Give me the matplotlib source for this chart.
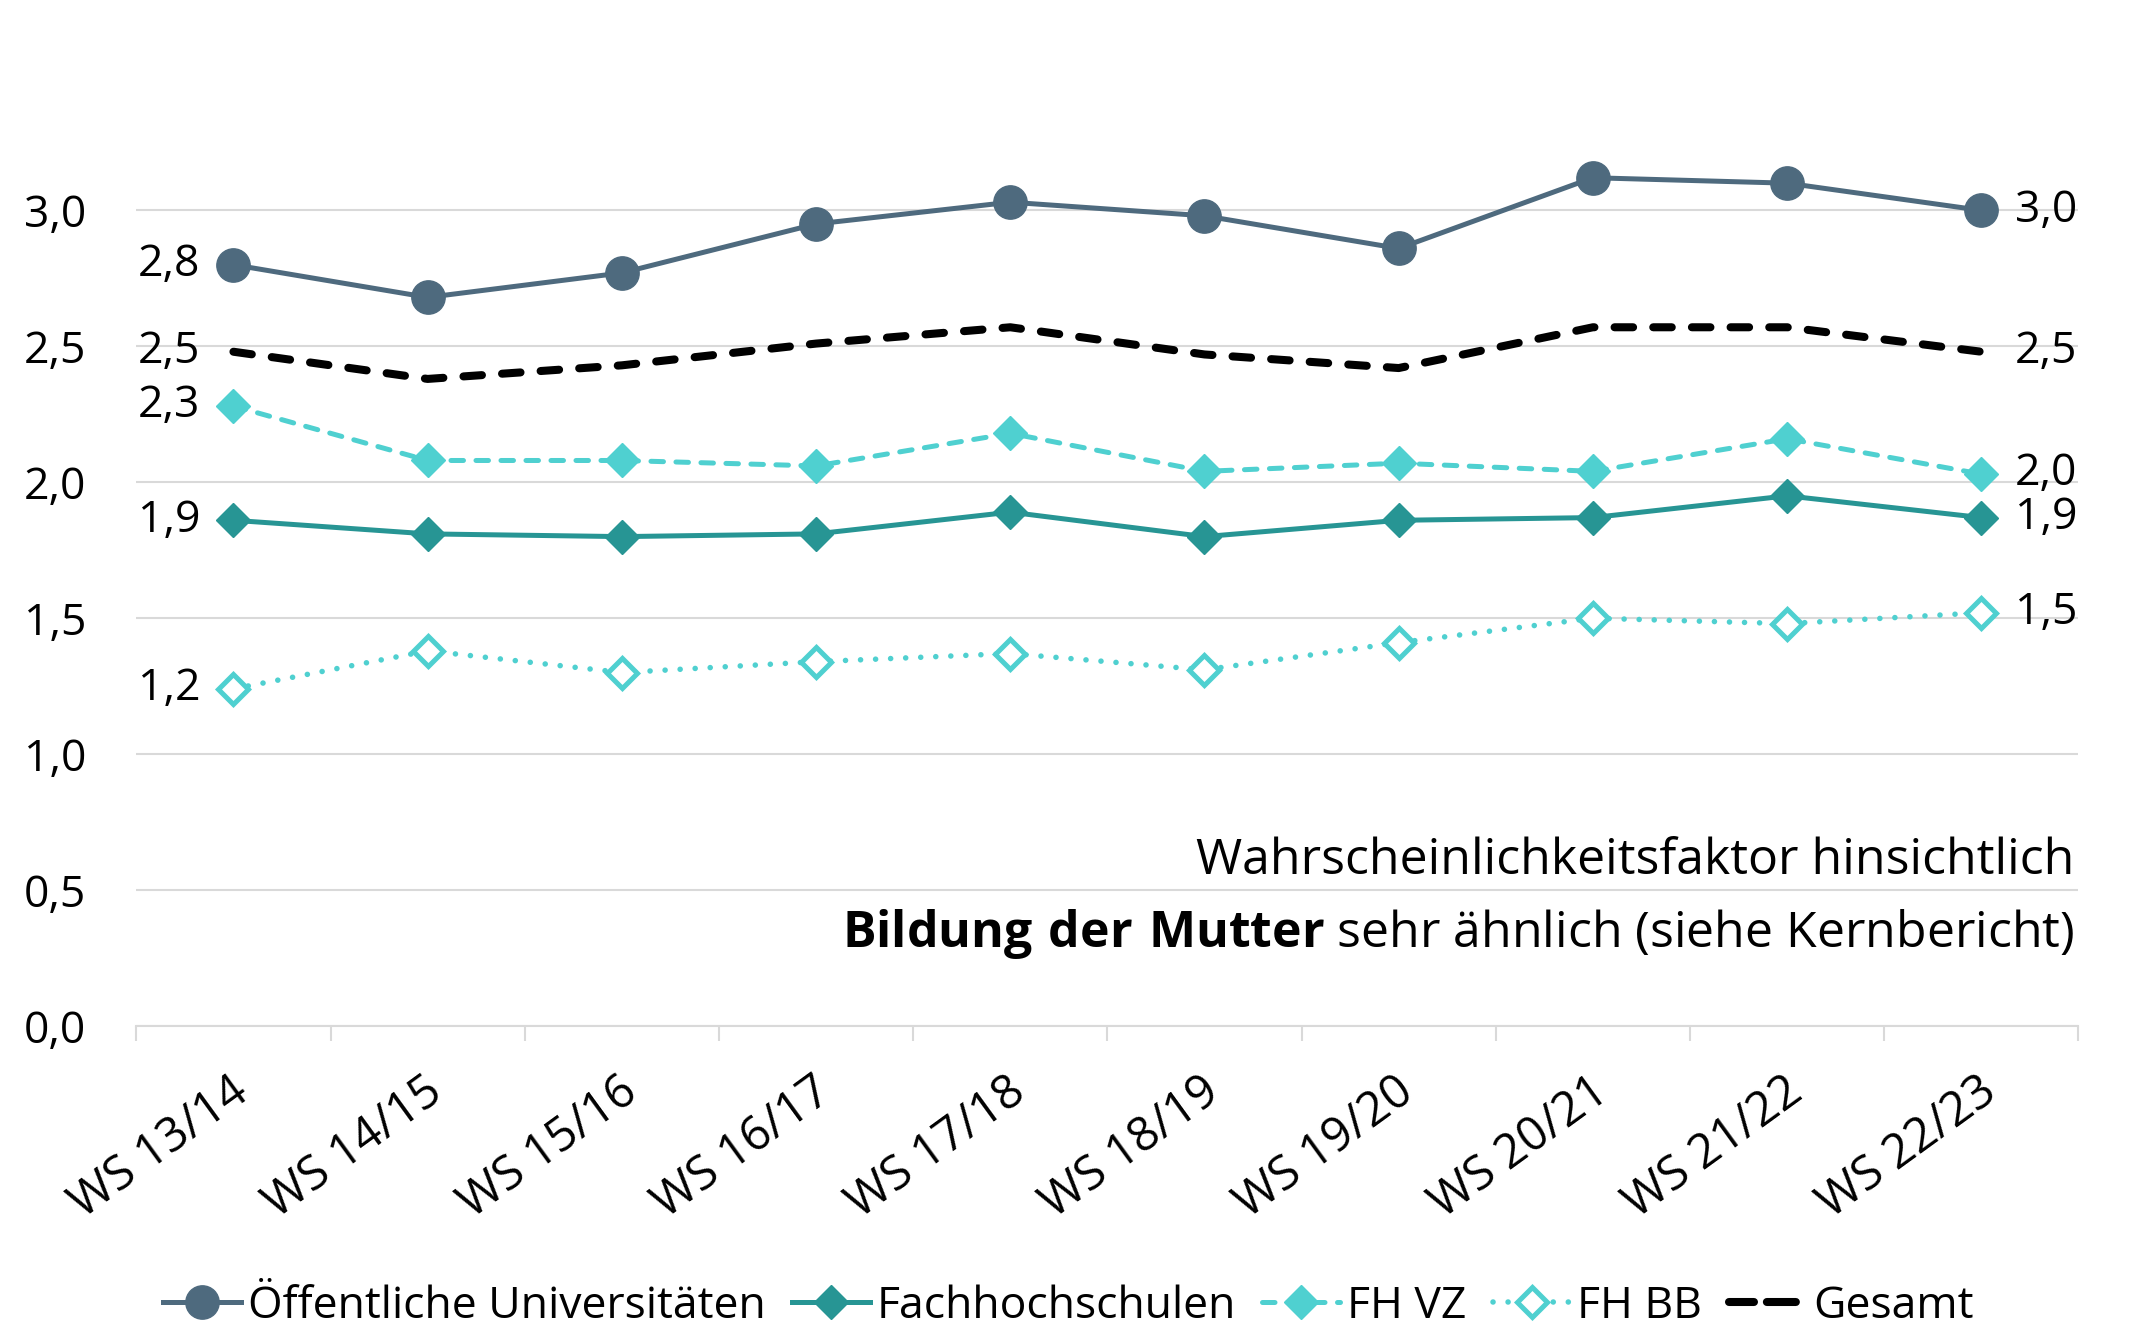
import numpy as np
import matplotlib.pyplot as plt
from matplotlib.lines import Line2D
from matplotlib.transforms import ScaledTranslation

plt.rcParams['font.family'] = ['Open Sans', 'DejaVu Sans']
plt.rcParams['mathtext.fontset'] = 'custom'
plt.rcParams['mathtext.rm'] = 'Open Sans'
plt.rcParams['mathtext.bf'] = 'Open Sans:bold'

semesters = ['WS 13/14', 'WS 14/15', 'WS 15/16', 'WS 16/17', 'WS 17/18',
             'WS 18/19', 'WS 19/20', 'WS 20/21', 'WS 21/22', 'WS 22/23']

uni = [2.80, 2.68, 2.77, 2.95, 3.03, 2.98, 2.86, 3.12, 3.10, 3.00]
fh = [1.86, 1.81, 1.80, 1.81, 1.89, 1.80, 1.86, 1.87, 1.95, 1.87]
fh_vz = [2.28, 2.08, 2.08, 2.06, 2.18, 2.04, 2.07, 2.04, 2.16, 2.03]
fh_bb = [1.24, 1.38, 1.30, 1.34, 1.37, 1.31, 1.41, 1.50, 1.48, 1.52]
gesamt = [2.48, 2.38, 2.43, 2.51, 2.57, 2.47, 2.42, 2.57, 2.57, 2.48]

c_uni = '#4E6A7E'
c_fh = '#279594'
c_cyan = '#4FD0D0'
grid_c = '#D9D9D9'
fs = 32

fig = plt.figure(figsize=(21.37, 13.29), dpi=100)
ax = fig.add_axes([0.0638, 0.228, 0.9088, 0.716])
x = np.arange(len(semesters))

ax.plot(x, uni, color=c_uni, lw=3.6, marker='o', ms=24,
        label='Öffentliche Universitäten', zorder=5)
ax.plot(x, fh, color=c_fh, lw=3.6, marker='D', ms=17,
        label='Fachhochschulen', zorder=5)
ax.plot(x, fh_vz, color=c_cyan, lw=3.6, marker='D', ms=17, ls=(0, (2.5, 2.5)),
        dash_capstyle='round', label='FH VZ', zorder=4)
ax.plot(x, fh_bb, color=c_cyan, lw=4, marker='D', ms=15, mfc='white',
        mew=3.6, ls=(0, (0.01, 2.7)), dash_capstyle='round',
        label='FH BB', zorder=4)
ax.plot(x, gesamt, color='black', lw=5.8, ls=(0, (2.3, 2.5)),
        dash_capstyle='round', label='Gesamt', zorder=6)

def fmt(v):
    return f'{v:.1f}'.replace('.', ',')

for s in [uni, gesamt, fh_vz, fh, fh_bb]:
    ax.annotate(fmt(s[0]), (x[0], s[0]), xytext=(-24, 0), textcoords='offset points',
                ha='right', va='center', fontsize=fs)
    ax.annotate(fmt(s[-1]), (x[-1], s[-1]), xytext=(24, 0), textcoords='offset points',
                ha='left', va='center', fontsize=fs)

ax.set_xlim(-0.5, len(semesters) - 0.5)
ax.set_ylim(0, 3.5)
ax.set_yticks(np.arange(0, 3.01, 0.5))
ax.set_yticklabels([fmt(v) for v in np.arange(0, 3.01, 0.5)], fontsize=fs)
ax.tick_params(axis='y', length=0, pad=36)
ax.grid(axis='y', color=grid_c, lw=1.5)
ax.set_axisbelow(True)

ax.set_xticks(x)
ax.set_xticklabels(semesters, fontsize=34, rotation=36, ha='right',
                   va='center', rotation_mode='anchor')
ax.tick_params(axis='x', length=0, pad=44)
shift = ScaledTranslation(0.1, 0, fig.dpi_scale_trans)
for lab in ax.get_xticklabels():
    lab.set_transform(lab.get_transform() + shift)
ax.set_xticks(np.arange(-0.5, len(semesters), 1), minor=True)
ax.tick_params(axis='x', which='minor', length=11, width=1.5, color=grid_c)

for sp in ['left', 'right', 'top']:
    ax.spines[sp].set_visible(False)
ax.spines['bottom'].set_color(grid_c)
ax.spines['bottom'].set_linewidth(1.5)

ax.text(0.998, 0.173, 'Wahrscheinlichkeitsfaktor hinsichtlich', transform=ax.transAxes,
        ha='right', va='center', fontsize=36)
ax.text(0.998, 0.097, r'$\mathbf{Bildung\ der\ Mutter}$ sehr ähnlich (siehe Kernbericht)',
        transform=ax.transAxes, ha='right', va='center', fontsize=36)

handles, labels = ax.get_legend_handles_labels()
handles[-1] = Line2D([], [], color='black', lw=5.8, ls=(0.5, (3.6, 1.6)),
                     dash_capstyle='round')
fig.legend(handles, labels, loc='center', bbox_to_anchor=(0.5, 0.017), ncol=5,
           frameon=False, fontsize=fs, handlelength=1.75, handletextpad=0.15,
           columnspacing=0.6)

fig.savefig('out.png', dpi=100)
